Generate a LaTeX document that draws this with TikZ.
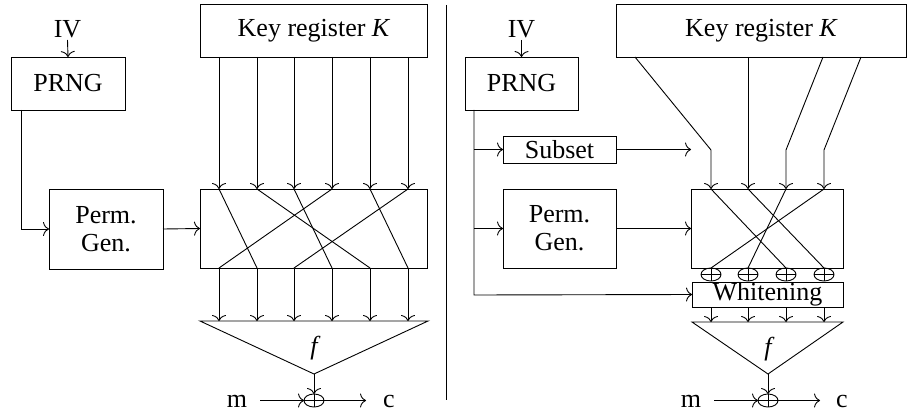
\documentclass[tikz,border=0pt]{standalone}
\usepackage{fontspec}
\setmainfont{Liberation Serif}
\usetikzlibrary{arrows.meta,shapes.geometric}
\begin{document}
\begin{tikzpicture}[x=1pt,y=-1pt,line width=0.9pt,
  box/.style={draw,inner sep=0pt,outer sep=0pt,align=center,font=\fontsize{26}{28}\selectfont},
  lbl/.style={inner sep=0pt,outer sep=0pt,font=\fontsize{26}{28}\selectfont},
  arr/.style={-{Computer Modern Rightarrow[length=6pt,width=14pt]}},
  xorsym/.style={draw,ellipse,inner sep=0pt,outer sep=0pt,minimum width=20pt,minimum height=13pt,
    path picture={\draw (path picture bounding box.north) -- (path picture bounding box.south)
      (path picture bounding box.west) -- (path picture bounding box.east);}}
]
\useasboundingbox (0,0) rectangle (909,414);

% ---------------- left ----------------
\node[lbl,anchor=base] (ivL) at (67.5,38) {IV};
\node[box,minimum width=114pt,minimum height=53pt] (prngL) at (68,83.5) {PRNG};
\node[box,minimum width=114pt,minimum height=80pt] (pgL) at (106,229) {Perm.\\Gen.};
\node[box,minimum width=227pt,minimum height=53pt] (keyL) at (313.5,30.5) {Key register {\itshape K}};
\node[box,minimum width=227pt,minimum height=79pt] (permL) at (313.5,228.5) {};
\coordinate (triLa) at (200,321);
\coordinate (triLb) at (428,321);
\coordinate (triLc) at (314,374);
\draw (triLa) -- (triLb) -- (triLc) -- cycle;
\node[lbl] (fL) at (314,348) {\itshape f};
\node[xorsym] (xorL) at (314,400.5) {};
\node[lbl,anchor=base] (mL) at (237,407) {m};
\node[lbl,anchor=base] (cL) at (389,407) {c};
\coordinate (mLout) at (260,400.5);
\coordinate (cLin) at (366,400.5);
\coordinate (ivLout) at (67.5,40);

\draw[arr] (ivLout) -- (prngL.north);
\draw[arr] (prngL.south -| 21,0) |- (pgL.west);
\draw[arr] (pgL.east) -- (permL.west);

\foreach \i/\x in {1/219,2/257,3/294,4/332,5/370,6/408}{
  \coordinate (tL\i) at (\x,189);
  \coordinate (bL\i) at (\x,268);
  \coordinate (fL\i) at (\x,321);
  \draw[arr] (keyL.south -| tL\i) -- (tL\i);
  \draw[arr] (bL\i) -- (fL\i);
}
\foreach \a/\b in {1/2,2/5,3/4,4/1,5/6,6/3}{
  \draw (tL\a) -- (bL\b);
}
\draw[arr] (triLc) -- (xorL.north);
\draw[arr] (mLout) -- (xorL.west);
\draw[arr] (xorL.east) -- (cLin);

% divider
\coordinate (divT) at (446,5);
\coordinate (divB) at (446,400);
\draw (divT) -- (divB);

% ---------------- right ----------------
\node[lbl,anchor=base] (ivR) at (521.5,38) {IV};
\node[box,minimum width=113pt,minimum height=53pt] (prngR) at (521.5,83.5) {PRNG};
\node[box,minimum width=113pt,minimum height=27pt] (subR) at (559.5,149.5) {Subset};
\node[box,minimum width=113pt,minimum height=79pt] (pgR) at (559.5,228.5) {Perm.\\Gen.};
\node[box,minimum width=290pt,minimum height=53pt] (keyR) at (761,30.5) {Key register {\itshape K}};
\node[box,minimum width=152pt,minimum height=79pt] (permR) at (767,228.5) {};
\node[box,minimum width=151pt,minimum height=25pt] (whR) at (767.5,294.5) {Whitening};
\coordinate (triRa) at (692,322);
\coordinate (triRb) at (843,322);
\coordinate (triRc) at (768,374);
\draw (triRa) -- (triRb) -- (triRc) -- cycle;
\node[lbl] (fR) at (768,349) {\itshape f};
\node[xorsym] (xorR) at (768,400.5) {};
\node[lbl,anchor=base] (mR) at (691,407) {m};
\node[lbl,anchor=base] (cR) at (842,407) {c};
\coordinate (mRout) at (714,400.5);
\coordinate (cRin) at (820,400.5);
\coordinate (ivRout) at (521.5,40);

\draw[arr] (ivRout) -- (prngR.north);
\coordinate (brR) at (474,295);
\draw[arr] (prngR.south -| brR) -- (brR) -- (whR.west);
\draw[arr] (subR.west -| brR) -- (subR.west);
\draw[arr] (pgR.west -| brR) -- (pgR.west);
\draw[arr] (subR.east) -- (subR.east -| permR.west);
\draw[arr] (pgR.east) -- (permR.west);

\foreach \i/\x in {1/711,2/748,3/786,4/824}{
  \coordinate (tR\i) at (\x,189);
  \coordinate (fR\i) at (\x,322);
  \node[xorsym] (xR\i) at (\x,274.5) {};
  \draw[arr] (whR.south -| tR\i) -- (fR\i);
}
\draw[arr] (keyR.south -| 635,0) -- (711,150) -- (tR1);
\draw[arr] (keyR.south -| tR2) -- (tR2);
\draw[arr] (keyR.south -| 823,0) -- (786,150) -- (tR3);
\draw[arr] (keyR.south -| 861,0) -- (824,150) -- (tR4);
\foreach \a/\b in {1/3,2/4,3/2,4/1}{
  \draw (tR\a) -- (xR\b.north);
}
\draw[arr] (triRc) -- (xorR.north);
\draw[arr] (mRout) -- (xorR.west);
\draw[arr] (xorR.east) -- (cRin);
\end{tikzpicture}
\end{document}
